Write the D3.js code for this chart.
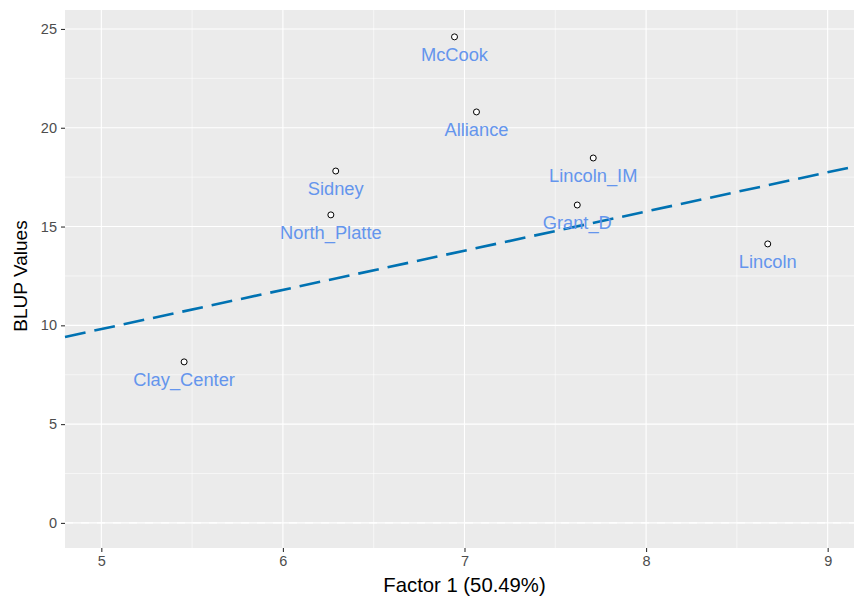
<!DOCTYPE html>
<html><head><meta charset="utf-8">
<script src="https://cdn.jsdelivr.net/npm/d3@7"></script>
<style>body{margin:0;background:#fff}svg{display:block}text{font-family:"Liberation Sans",Arial,sans-serif}</style>
</head><body>
<script>
const sites = ["McCook","Alliance","Sidney","North_Platte","Lincoln_IM","Grant_D","Lincoln","Clay_Center"];
const factor1 = [6.945,7.066,6.291,6.264,7.709,7.621,8.670,5.456];
const blup = [24.6,20.8,17.81,15.59,18.47,16.09,14.12,8.15];
const xTicks = [5,6,7,8,9];
const yTicks = [0,5,10,15,20,25];
const lineIntercept = -0.11, lineSlope = 1.984;

const W=855,H=596;
const m={l:65,r:1,t:10,b:48};
const svg=d3.select("body").append("svg").attr("width",W).attr("height",H);
const x=d3.scaleLinear().domain([4.80,9.145]).range([m.l,W-m.r]);
const y=d3.scaleLinear().domain([-1.27,25.96]).range([H-m.b,m.t]);
svg.append("rect").attr("x",m.l).attr("y",m.t).attr("width",W-m.r-m.l).attr("height",H-m.b-m.t).attr("fill","#EBEBEB");
const g=svg.append("g");
const xMinor=[5.5,6.5,7.5,8.5], yMinor=[2.5,7.5,12.5,17.5,22.5];
g.selectAll(".xm").data(xMinor).join("line").attr("x1",d=>x(d)).attr("x2",d=>x(d)).attr("y1",m.t).attr("y2",H-m.b).attr("stroke","#fff").attr("stroke-width",0.55);
g.selectAll(".ym").data(yMinor).join("line").attr("y1",d=>y(d)).attr("y2",d=>y(d)).attr("x1",m.l).attr("x2",W-m.r).attr("stroke","#fff").attr("stroke-width",0.55);
g.selectAll(".xM").data(xTicks).join("line").attr("x1",d=>x(d)).attr("x2",d=>x(d)).attr("y1",m.t).attr("y2",H-m.b).attr("stroke","#fff").attr("stroke-width",1.1);
g.selectAll(".yM").data(yTicks).join("line").attr("y1",d=>y(d)).attr("y2",d=>y(d)).attr("x1",m.l).attr("x2",W-m.r).attr("stroke","#fff").attr("stroke-width",1.1);
// zero dashed line
g.append("line").attr("x1",m.l).attr("x2",W-m.r).attr("y1",y(0)).attr("y2",y(0)).attr("stroke","#fff").attr("stroke-width",1.1).attr("stroke-dasharray","8,8");
// regression line
const xd=x.domain();
g.append("line").attr("x1",x(xd[0])).attr("x2",x(xd[1])).attr("y1",y(lineIntercept+lineSlope*xd[0])).attr("y2",y(lineIntercept+lineSlope*xd[1]))
 .attr("stroke","#0072B2").attr("stroke-width",2.6).attr("stroke-dasharray","21,9");
// points
const data=sites.map((s,i)=>({s,x:factor1[i],y:blup[i]}));
g.selectAll("circle").data(data).join("circle").attr("cx",d=>x(d.x)).attr("cy",d=>y(d.y)).attr("r",3).attr("fill","#fff").attr("stroke","#000").attr("stroke-width",1);
g.selectAll(".lab").data(data).join("text").attr("x",d=>x(d.x)).attr("y",d=>y(d.y)+18).attr("dy","0.35em").attr("text-anchor","middle")
 .attr("fill","#6495ED").attr("font-size",18.3).text(d=>d.s);
// axes
const xa=svg.append("g").attr("transform",`translate(0,${H-m.b})`).call(d3.axisBottom(x).tickValues(xTicks).tickFormat(d3.format("d")).tickSize(4).tickPadding(4));
const ya=svg.append("g").attr("transform",`translate(${m.l},0)`).call(d3.axisLeft(y).tickValues(yTicks).tickFormat(d3.format("d")).tickSize(4).tickPadding(4));
[xa,ya].forEach(a=>{a.select(".domain").remove();a.selectAll("line").attr("stroke","#333").attr("stroke-width",1.1);a.selectAll("text").attr("fill","#4D4D4D").attr("font-size",14.5).attr("font-family","Liberation Sans, Arial, sans-serif");});
svg.append("text").attr("x",(m.l+W-m.r)/2+5).attr("y",H-4).attr("text-anchor","middle").attr("font-size",20.3).attr("fill","#000").text("Factor 1 (50.49%)");
svg.append("text").attr("transform",`translate(${27},${276}) rotate(-90)`).attr("text-anchor","middle").attr("font-size",19).attr("fill","#000").text("BLUP Values");
</script>
</body></html>
